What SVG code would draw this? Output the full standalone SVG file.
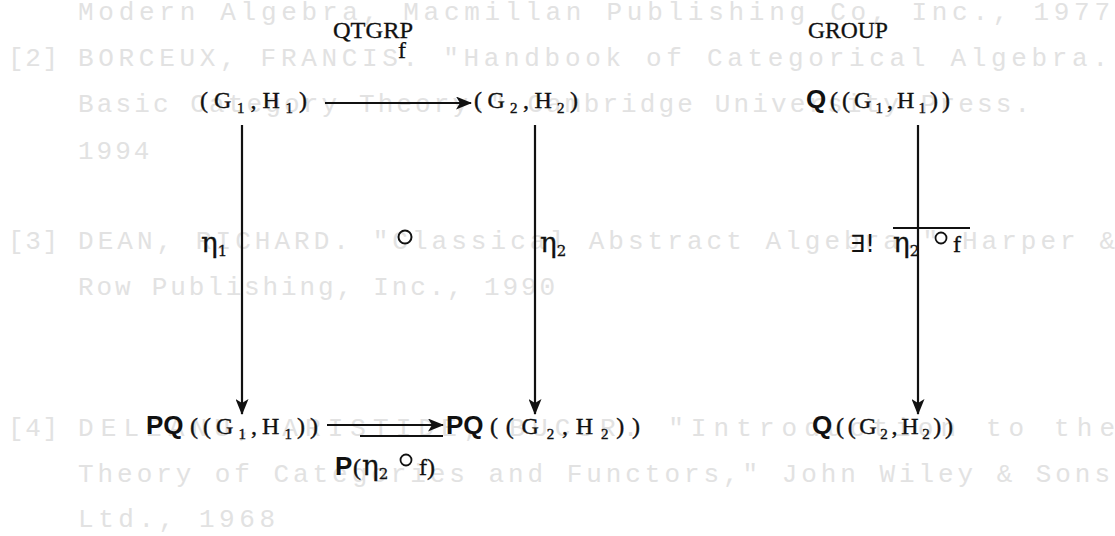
<svg xmlns="http://www.w3.org/2000/svg" width="1115" height="536" viewBox="0 0 1115 536">
<defs>
<marker id="ah" markerWidth="16" markerHeight="13" refX="15" refY="6.5" orient="auto" markerUnits="userSpaceOnUse">
<path d="M0,0 L16,6.5 L0,13 L4,6.5 Z" fill="#111"/>
</marker>
</defs>
<style>
.bg{font-family:"Liberation Mono",monospace;font-size:26px;fill:#e2e2e2}
.cat{font-family:"Liberation Serif",serif;font-size:24px;fill:#111;stroke:#111;stroke-width:0.3}
.t{font-family:"Liberation Serif",serif;font-size:24px;fill:#111;stroke:#111;stroke-width:0.4}
.b{font-family:"Liberation Sans",sans-serif;font-weight:bold;font-size:26px;fill:#111}
.sub{font-size:15px}
.gk{font-family:"DejaVu Serif",serif;font-size:28px;fill:#111;stroke:#111;stroke-width:0.3}
.op{font-family:"DejaVu Sans",sans-serif;font-size:24px;fill:#111}
.edge{stroke:#111;stroke-width:2.2;fill:none}
</style>
<rect width="1115" height="536" fill="#ffffff"/>
<g id="bleed">
<text class="bg" x="78" y="20" textLength="1032" lengthAdjust="spacing">Modern Algebra, Macmillan Publishing Co, Inc., 1977</text>
<text class="bg" x="8" y="66" textLength="50" lengthAdjust="spacing">[2]</text>
<text class="bg" x="78" y="66" textLength="1030" lengthAdjust="spacing">BORCEUX, FRANCIS. "Handbook of Categorical Algebra.</text>
<text class="bg" x="78" y="112" textLength="952" lengthAdjust="spacing">Basic Category Theory." Cambridge University Press.</text>
<text class="bg" x="78" y="159" letter-spacing="3">1994</text>
<text class="bg" x="8" y="249" textLength="50" lengthAdjust="spacing">[3]</text>
<text class="bg" x="78" y="249" textLength="1037" lengthAdjust="spacing">DEAN, RICHARD. "Classical Abstract Algebra." Harper &amp;</text>
<text class="bg" x="78" y="295" textLength="477" lengthAdjust="spacing">Row Publishing, Inc., 1990</text>
<text class="bg" x="8" y="436" textLength="50" lengthAdjust="spacing">[4]</text>
<text class="bg" x="78" y="436" textLength="1037" lengthAdjust="spacing">DELEANU, ARISTIDE, BUCUR. "Introduction to the</text>
<text class="bg" x="78" y="482" textLength="1032" lengthAdjust="spacing">Theory of Categories and Functors," John Wiley &amp; Sons</text>
<text class="bg" x="78" y="527" textLength="197" lengthAdjust="spacing">Ltd., 1968</text>
</g>
<g id="titles">
<text class="cat" x="333" y="38" textLength="80" lengthAdjust="spacingAndGlyphs">QTGRP</text>
<text class="cat" x="808" y="38" textLength="80" lengthAdjust="spacingAndGlyphs">GROUP</text>
</g>
<g id="n1"><text class="t" x="200" y="108" textLength="107" lengthAdjust="spacing">(G<tspan class="sub" dy="5">1</tspan><tspan dy="-5">,H</tspan><tspan class="sub" dy="5">1</tspan><tspan dy="-5">)</tspan></text></g>
<g id="n2"><text class="t" x="474" y="108" textLength="104" lengthAdjust="spacing">(G<tspan class="sub" dy="5">2</tspan><tspan dy="-5">,H</tspan><tspan class="sub" dy="5">2</tspan><tspan dy="-5">)</tspan></text></g>
<g id="n3"><text class="b" x="806" y="108">Q</text><text class="t" x="830" y="108" textLength="120" lengthAdjust="spacing">((G<tspan class="sub" dy="5">1</tspan><tspan dy="-5">,H</tspan><tspan class="sub" dy="5">1</tspan><tspan dy="-5">))</tspan></text></g>
<g id="n4"><text class="b" x="146" y="434">PQ</text><text class="t" x="190" y="434" textLength="128" lengthAdjust="spacing">((G<tspan class="sub" dy="5">1</tspan><tspan dy="-5">,H</tspan><tspan class="sub" dy="5">1</tspan><tspan dy="-5">))</tspan></text></g>
<g id="n5"><text class="b" x="446" y="434">PQ</text><text class="t" x="490" y="434" textLength="150" lengthAdjust="spacing">((G<tspan class="sub" dy="5">2</tspan><tspan dy="-5">,H</tspan><tspan class="sub" dy="5">2</tspan><tspan dy="-5">))</tspan></text></g>
<g id="n6"><text class="b" x="812" y="434">Q</text><text class="t" x="836" y="434" textLength="117" lengthAdjust="spacing">((G<tspan class="sub" dy="5">2</tspan><tspan dy="-5">,H</tspan><tspan class="sub" dy="5">2</tspan><tspan dy="-5">))</tspan></text></g>
<g id="connectors">
<line class="edge" x1="325" y1="103" x2="471" y2="103" marker-end="url(#ah)"/>
<line class="edge" x1="242" y1="125" x2="242" y2="414" marker-end="url(#ah)"/>
<line class="edge" x1="535" y1="125" x2="535" y2="414" marker-end="url(#ah)"/>
<line class="edge" x1="918" y1="125" x2="918" y2="414" marker-end="url(#ah)"/>
<line class="edge" x1="327" y1="425" x2="443" y2="425" marker-end="url(#ah)"/>
</g>
<g id="labels">
<text class="cat" x="398" y="58" font-size="27">f</text>
<text class="gk" x="201" y="252">η<tspan class="sub" dy="4">1</tspan></text>
<circle cx="405" cy="237" r="6.5" fill="none" stroke="#111" stroke-width="2"/>
<text class="gk" x="540" y="252">η<tspan class="sub" dy="4">2</tspan></text>
<text class="op" x="850" y="252">∃!</text>
<text class="gk" x="893" y="252">η<tspan class="sub" dy="4">2</tspan></text>
<circle cx="941" cy="238" r="5.5" fill="none" stroke="#111" stroke-width="1.8"/>
<text class="t" x="953" y="252">f</text>
<line x1="893" y1="228" x2="970" y2="228" stroke="#111" stroke-width="2"/>
<text class="b" x="335" y="475">P</text>
<text class="t" x="353" y="475">(</text>
<text class="gk" x="362" y="475">η<tspan class="sub" dy="4">2</tspan></text>
<circle cx="406" cy="460" r="5.5" fill="none" stroke="#111" stroke-width="1.8"/>
<text class="t" x="419" y="475">f)</text>
<line x1="360" y1="436" x2="443" y2="436" stroke="#111" stroke-width="2"/>
</g>
</svg>
